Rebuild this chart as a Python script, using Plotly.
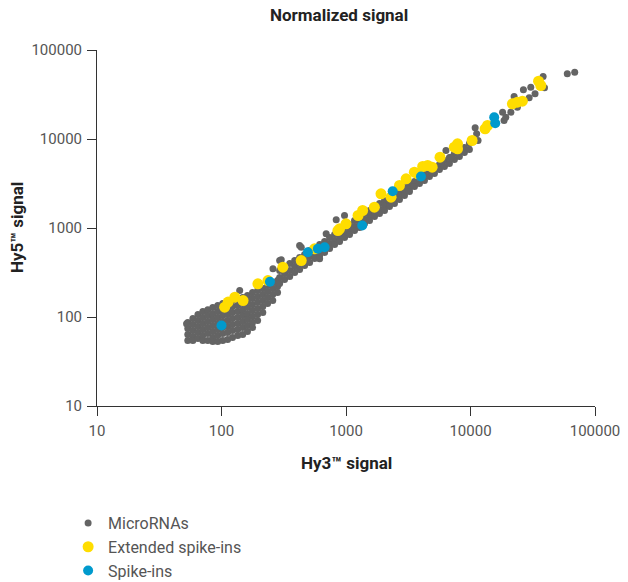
import plotly.graph_objects as go

# ---------------- data ----------------
tick_vals = [10, 100, 1000, 10000, 100000]
tick_text = ["10", "100", "1000", "10000", "100000"]

# MicroRNAs: dense low-signal cloud (grouped by Hy3 value)
cloud_x = [53.6, 58.9, 64.7, 70.8, 77.6, 85.1, 93.3, 102.3, 112, 122.6,
           135, 148, 161.7, 177.6, 195, 214.6, 234.6, 258, 282]
cloud_y = [
    [86.7, 74.3, 63.6, 54.5],
    [96.2, 82.4, 70.5, 60.4, 54.5],
    [107, 91.3, 78.2, 67, 57.4],
    [115, 98.7, 84.5, 72.4, 62.0, 54.5],
    [121, 104, 89, 76.2, 65.3, 54.5],
    [128, 109, 93.7, 80.3, 68.7, 58.9, 53.1],
    [135, 115, 98.7, 84.5, 72.4, 62.0, 53.1],
    [142, 121, 104, 89, 76.2, 65.3, 54.5],
    [146, 125, 107, 91.3, 78.2, 67, 55.9],
    [153, 131, 112, 96.2, 82.4, 70.5, 58.9],
    [157, 135, 115, 98.7, 84.5, 72.4, 62.0],
    [166, 142, 121, 104, 89, 76.2, 63.6],
    [174, 149, 128, 109, 93.7, 80.3, 68.7],
    [189, 162, 138, 118, 101, 86.7, 76.2],
    [199, 170, 146, 125, 107, 91.3],
    [209, 179, 153, 131, 112],
    [226, 194, 166, 142],
    [244, 209, 179, 153],
    [257, 220, 189],
]

# MicroRNAs: diagonal band (grouped by Hy3 value)
band_x = [293, 321, 353, 387, 424, 465, 510, 560, 614, 673, 738, 810, 888,
          974, 1068, 1171, 1284, 1409, 1545, 1694, 1858, 2038, 2235, 2451,
          2689, 2949, 3234, 3547, 3890, 4266, 4679, 5132, 5628, 6173, 6770,
          7425, 8143, 8931, 9795]
band_y = [
    [333, 278, 238], [360, 309, 264], [399, 333, 286], [431, 369, 316],
    [466, 399, 342], [504, 431, 379], [559, 478, 409], [604, 517, 454],
    [653, 559, 491], [706, 604, 531], [782, 670, 589], [846, 724, 653],
    [937, 803, 706], [1013, 868, 782], [1095, 962, 846], [1214, 1040, 937],
    [1312, 1153, 1013], [1455, 1246, 1124], [1573, 1382, 1214],
    [1700, 1494, 1347], [1885, 1614, 1455], [2037, 1790, 1573],
    [2201, 1934, 1744], [2441, 2090, 1885], [2639, 2318, 2090],
    [2852, 2506, 2318], [3082, 2779, 2572], [3331, 2926], [3694, 3162],
    [3992, 3418], [4427, 3791], [4784, 4097], [5170, 4543], [5733, 4909],
    [6196, 5305], [6871, 5883], [7430, 6358], [8024, 7055], [8899, 7625],
]

# MicroRNAs: scattered points
micro_x = [52.4, 140, 259, 293, 302, 424, 437, 614, 693, 834, 973,
           4820, 5120, 5970, 6350, 6960, 10900, 11200, 11500,
           18100, 18600, 19200, 21100, 22400, 23800, 26600, 29600, 30500,
           33000, 38300, 39300, 59900, 68700]
micro_y = [84.1, 199, 348, 431, 439, 636, 608, 451, 861, 1236, 1382,
           4236, 4821, 5733, 7430, 6244, 13360, 11440, 9620,
           20000, 16140, 17580, 20000, 30030, 22770, 35710, 29040, 38190,
           32200, 50380, 37610, 54030, 56320]

# Extended spike-ins
ext_x = [106, 113, 128, 149, 196, 236, 311, 437, 559, 861, 888, 1000, 1250,
         1360, 1690, 1910, 2300, 2690, 3040, 3540, 3770, 4130, 4530, 4920,
         5690, 7410, 7870, 7870, 10300, 13100, 13700, 21700, 23800, 26100,
         35200, 36700]
ext_y = [129, 147, 167, 153, 236, 257, 363, 431, 584, 937, 979, 1115, 1382,
         1573, 1713, 2423, 2219, 3003, 3571, 4236, 4064, 4910, 5038, 4821,
         6244, 8088, 8834, 7762, 9620, 13020, 14180, 24860, 25910, 26590,
         44610, 39920]

# Spike-ins
spk_x = [100, 245, 494, 594, 673, 1350, 2370, 4000, 15500, 15800]
spk_y = [80.3, 249, 535, 584, 608, 1067, 2591, 3791, 17580, 15050]

x_title = "<b>Hy3™ signal</b>"
y_title = "<b>Hy5™ signal</b>"
chart_title = "<b>Normalized signal</b>"

# ---------------- build ----------------
mx, my = [], []
for xv, ys in zip(cloud_x, cloud_y):
    for yv in ys:
        mx.append(xv)
        my.append(yv)
for xv, ys in zip(band_x, band_y):
    for yv in ys:
        mx.append(xv)
        my.append(yv)
mx += micro_x
my += micro_y

GRAY = "#646464"
YELLOW = "#FFDD00"
BLUE = "#009ACD"
FONT = "Roboto"
TITLE_FONT = dict(family=FONT, size=17, color="#222222")

fig = go.Figure()
fig.add_trace(go.Scatter(x=mx, y=my, mode="markers", name="MicroRNAs",
                         marker=dict(color=GRAY, size=7, line=dict(width=0))))
fig.add_trace(go.Scatter(x=ext_x, y=ext_y, mode="markers", name="Extended spike-ins",
                         marker=dict(color=YELLOW, size=11, line=dict(width=0))))
fig.add_trace(go.Scatter(x=spk_x, y=spk_y, mode="markers", name="Spike-ins",
                         marker=dict(color=BLUE, size=10, line=dict(width=0))))

axis_common = dict(
    type="log", range=[1, 5], tickmode="array", tickvals=tick_vals,
    ticktext=tick_text, showgrid=False, zeroline=False, showline=True,
    linecolor="#333333", linewidth=1, ticks="outside", ticklen=9,
    tickcolor="#333333", tickwidth=1, automargin=False,
    ticklabelstandoff=2,
    tickfont=dict(family=FONT, size=15, color="#555555"),
)

fig.update_layout(
    width=628, height=582,
    margin=dict(l=97, r=33, t=50, b=176, autoexpand=False),
    paper_bgcolor="white", plot_bgcolor="white",
    title=dict(text=chart_title, x=0.54, xanchor="center",
               y=0.984, yanchor="top", font=TITLE_FONT),
    xaxis=dict(**axis_common),
    yaxis=dict(**axis_common),
    showlegend=True,
    legend=dict(x=-0.058, xanchor="left", y=-0.281, yanchor="top",
                font=dict(family=FONT, size=16, color="#555555"),
                bgcolor="rgba(0,0,0,0)", itemsizing="trace"),
    annotations=[
        dict(text=x_title, xref="paper", yref="paper", x=0.5, y=-0.161,
             xanchor="center", yanchor="middle", showarrow=False,
             font=TITLE_FONT),
        dict(text=y_title, xref="paper", yref="paper", x=-0.1606, y=0.5,
             xanchor="center", yanchor="middle", showarrow=False,
             textangle=-90, font=TITLE_FONT),
    ],
)

# place the figure flush with the page corner (no default body margin)
fig.write_html("out.html", config={"displayModeBar": False},
               post_script="document.body.style.margin='0px';")
